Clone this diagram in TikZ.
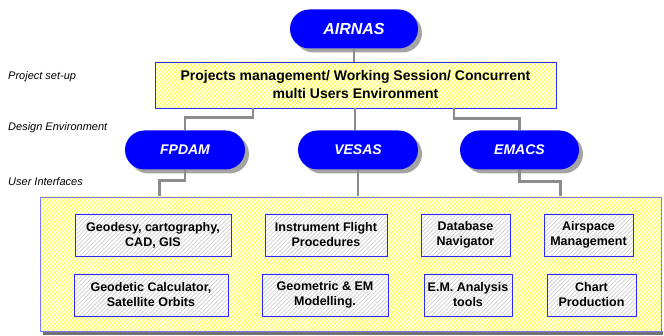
\documentclass[tikz,border=0pt]{standalone}
\usepackage{fontspec}
\setmainfont{Liberation Sans}
\usetikzlibrary{patterns.meta}
\definecolor{pillblue}{HTML}{0000FF}
\definecolor{edgeblue}{HTML}{2828FF}
\definecolor{edgelight}{HTML}{7878FF}
\definecolor{hatchy}{HTML}{FFFF55}
\definecolor{hatchg}{HTML}{D4D4D4}
\definecolor{shadowgray}{HTML}{A4A4A4}
\definecolor{conngray}{HTML}{8C8C8C}
\tikzset{
  pill/.style={minimum height=39pt, rounded corners=19.5pt, fill=pillblue,
    text=white, font=\bfseries\itshape\fontsize{14}{16}\selectfont, inner sep=0pt,
    preaction={fill=shadowgray, transform canvas={xshift=4pt,yshift=-4pt}}},
  yhatch/.style={draw=#1, line width=0.9pt, preaction={fill=white},
    pattern={Lines[angle=45, distance=3pt, line width=1.3pt]}, pattern color=hatchy},
  yhatch/.default=edgeblue,
  ghatch/.style={draw=edgeblue, line width=0.9pt, preaction={fill=white},
    pattern={Lines[angle=45, distance=3pt, line width=0.9pt]}, pattern color=hatchg,
    inner sep=0pt, align=center, font=\bfseries\fontsize{12.5}{15}\selectfont},
  lbl/.style={anchor=west, inner sep=0pt, font=\itshape\fontsize{11}{13}\selectfont},
  conn/.style={draw=conngray, line width=2.6pt}
}
\begin{document}
\begin{tikzpicture}[x=1pt,y=-1pt]
\useasboundingbox (0,0) rectangle (664,336);
% labels
\node[lbl] (l1) at (8,77) {Project set-up};
\node[lbl] (l2) at (8,128) {Design Environment};
\node[lbl] (l3) at (8,182) {User Interfaces};
% big box with shadow
\fill[shadowgray!70!black] (43,331) rectangle (663,335);
\node[yhatch=edgelight, minimum width=621pt, minimum height=134pt, inner sep=0pt] (big) at (350.5,264) {};
% project box
\node[yhatch, minimum width=401pt, minimum height=46pt, inner sep=0pt, align=center,
  font=\bfseries\fontsize{14}{18}\selectfont] (proj) at (355.5,85)
  {Projects management/ Working Session/ Concurrent\\multi Users Environment};
% pills
\node[pill, minimum width=128pt, font=\bfseries\itshape\fontsize{16}{18}\selectfont] (air) at (354,29) {AIRNAS};
\node[pill, minimum width=120pt] (fp) at (185,150) {FPDAM};
\node[pill, minimum width=120pt] (ves) at (358,150) {VESAS};
\node[pill, minimum width=119pt] (em) at (519.5,150) {EMACS};
% connectors
\draw[conn] (air.south) -- (air.south |- proj.north);
\draw[conn] ([xshift=-102.5pt]proj.south) -- ++(0,9) -| (fp.north);
\draw[conn] ([xshift=-0.5pt]proj.south) -- ([xshift=-0.5pt]proj.south |- ves.north);
\draw[conn] ([xshift=98.5pt]proj.south) -- ++(0,10) -| (em.north);
\draw[conn] (fp.south) -- ++(0,11) -| ([xshift=120pt]big.north west);
\draw[conn] (ves.south) -- (ves.south |- big.north);
\draw[conn] (em.south) -- ++(0,12) -| ([xshift=-101pt]big.north east);
% inner boxes
\node[ghatch, minimum width=156pt, minimum height=42pt] (b1) at (153,235) {Geodesy, cartography,\\CAD, GIS};
\node[ghatch, minimum width=122pt, minimum height=42pt] (b2) at (326,235) {Instrument Flight\\Procedures};
\node[ghatch, minimum width=89pt, minimum height=42pt] (b3) at (465.5,235) {Database\\Navigator};
\node[ghatch, minimum width=89pt, minimum height=42pt] (b4) at (588.5,235) {Airspace\\Management};
\node[ghatch, minimum width=154pt, minimum height=42pt] (b5) at (151,295) {Geodetic Calculator,\\Satellite Orbits};
\node[ghatch, minimum width=126pt, minimum height=42pt] (b6) at (325,295) {Geometric \& EM\\Modelling.};
\node[ghatch, minimum width=88pt, minimum height=42pt] (b7) at (468,295) {E.M. Analysis\\tools};
\node[ghatch, minimum width=89pt, minimum height=42pt] (b8) at (591.5,295) {Chart\\Production};
\end{tikzpicture}
\end{document}
